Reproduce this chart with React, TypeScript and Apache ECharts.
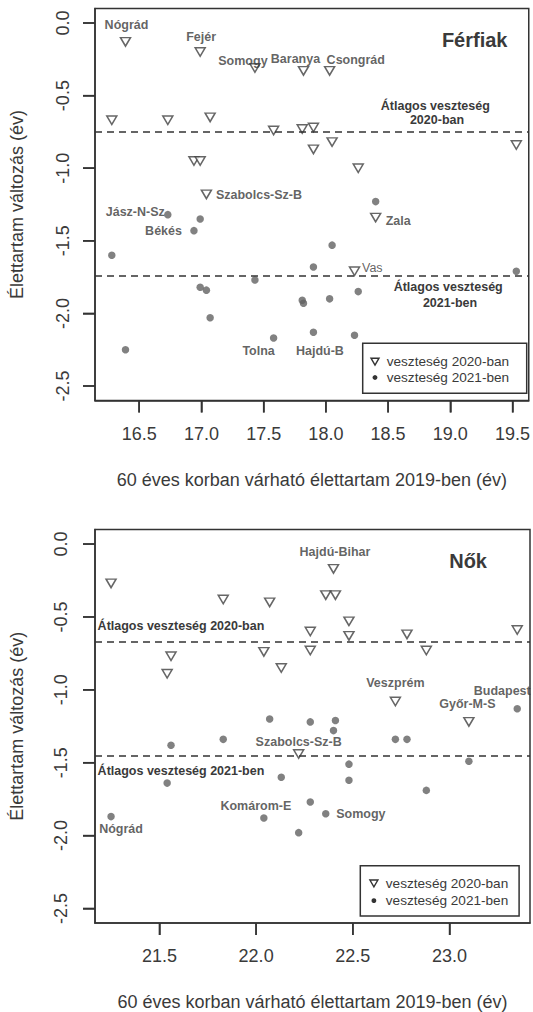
import React, { useEffect, useRef } from "react";
import * as echarts from "echarts";

const FONT = "'Liberation Sans', Arial, Helvetica, sans-serif";
const INK = "#3a3a3a";
const BOX = "#333333";

// Férfiak: 60 éves korban várható élettartam 2019-ben, és a veszteség 2020-ban / 2021-ben
const menLife2019 = [16.39, 16.99, 17.43, 17.82, 18.03, 16.28, 16.73, 17.07, 17.58, 17.81, 17.9, 17.9, 18.05, 19.53, 16.94, 16.99, 18.26, 17.04, 18.4, 18.23];
const menLoss2020 = [-0.13, -0.2, -0.31, -0.33, -0.33, -0.67, -0.67, -0.65, -0.74, -0.73, -0.72, -0.87, -0.82, -0.84, -0.95, -0.95, -1.0, -1.18, -1.34, -1.71];
const menLoss2021 = [-2.25, -1.82, -1.77, -1.93, -1.9, -1.6, -1.32, -2.03, -2.17, -1.91, -1.68, -2.13, -1.53, -1.71, -1.43, -1.35, -1.85, -1.84, -1.23, -2.15];
const menCounties = ["Nógrád", "Fejér", "Somogy", "Baranya", "Csongrád", "", "Jász-N-Sz", "", "Tolna", "", "", "Hajdú-B", "", "", "Békés", "", "", "Szabolcs-Sz-B", "Zala", "Vas"];
const menMean2020 = -0.75;
const menMean2021 = -1.74;

// Nők
const womenLife2019 = [21.25, 21.83, 22.07, 22.4, 22.36, 22.41, 22.48, 22.48, 22.28, 22.28, 22.04, 22.13, 21.56, 21.54, 22.78, 22.88, 23.35, 22.72, 23.1, 22.22];
const womenLoss2020 = [-0.27, -0.38, -0.4, -0.17, -0.35, -0.35, -0.53, -0.63, -0.6, -0.73, -0.74, -0.85, -0.77, -0.89, -0.62, -0.73, -0.59, -1.08, -1.22, -1.44];
const womenLoss2021 = [-1.87, -1.34, -1.2, -1.28, -1.85, -1.21, -1.51, -1.62, -1.22, -1.77, -1.88, -1.6, -1.38, -1.64, -1.34, -1.69, -1.13, -1.34, -1.49, -1.98];
const womenCounties = ["Nógrád", "", "", "Hajdú-Bihar", "Somogy", "", "", "", "", "", "Komárom-E", "", "", "", "", "", "Budapest", "Veszprém", "Győr-M-S", "Szabolcs-Sz-B"];
const womenMean2020 = -0.67;
const womenMean2021 = -1.45;

const menTicks = [16.5, 17.0, 17.5, 18.0, 18.5, 19.0, 19.5];
const womenTicks = [21.5, 22.0, 22.5, 23.0];
const lossTicks = [0, -0.5, -1.0, -1.5, -2.0, -2.5];

const MEN_X_RANGE = [16.145, 19.63];
const WOMEN_X_RANGE = [21.167, 23.416];
const LOSS_RANGE = [-2.6, 0.1];

const SERIES_2020 = "veszteség 2020-ban";
const SERIES_2021 = "veszteség 2021-ben";

type Placement = { year: 2020 | 2021; dx: number; dy: number; align: "left" | "center" | "right"; weight?: string };

// where each county name sits relative to its marker
const menLabelPlacement: Record<string, Placement> = {
  "Nógrád": { year: 2020, dx: 1, dy: -17, align: "center" },
  "Fejér": { year: 2020, dx: 1, dy: -15, align: "center" },
  "Somogy": { year: 2020, dx: -12, dy: -7, align: "center" },
  "Baranya": { year: 2020, dx: -8, dy: -12, align: "center" },
  "Csongrád": { year: 2020, dx: -3, dy: -11, align: "left" },
  "Szabolcs-Sz-B": { year: 2020, dx: 9.5, dy: 1, align: "left" },
  "Zala": { year: 2020, dx: 10, dy: 3, align: "left" },
  "Vas": { year: 2020, dx: 7.5, dy: -3.5, align: "left", weight: "normal" },
  "Jász-N-Sz": { year: 2021, dx: -3, dy: -3, align: "right" },
  "Békés": { year: 2021, dx: -12, dy: 0, align: "right" },
  "Tolna": { year: 2021, dx: -15, dy: 13, align: "center" },
  "Hajdú-B": { year: 2021, dx: 6.5, dy: 18.5, align: "center" },
};

const womenLabelPlacement: Record<string, Placement> = {
  "Hajdú-Bihar": { year: 2020, dx: 1.5, dy: -17, align: "center" },
  "Veszprém": { year: 2020, dx: 0, dy: -18, align: "center" },
  "Győr-M-S": { year: 2020, dx: -1.5, dy: -17.5, align: "center" },
  "Szabolcs-Sz-B": { year: 2020, dx: 0, dy: -11.5, align: "center" },
  "Budapest": { year: 2021, dx: -15, dy: -18, align: "center" },
  "Komárom-E": { year: 2021, dx: -8, dy: -12.5, align: "center" },
  "Somogy": { year: 2021, dx: 10.5, dy: 0, align: "left" },
  "Nógrád": { year: 2021, dx: 10, dy: 12.5, align: "center" },
};

const GRID_MEN = { left: 92.5, top: 8.5, width: 437, height: 392 };
const GRID_WOMEN = { left: 90, top: 529.5, width: 440, height: 394 };
const TICK_LEN = 12;

function buildPoints(xs: number[], ys: number[], names: string[], placement: Record<string, Placement>, year: 2020 | 2021) {
  return xs.map((x, i) => {
    const item: any = { value: [x, ys[i]], name: names[i] };
    const p = placement[names[i]];
    if (names[i] && p && p.year === year) {
      item.label = {
        show: true,
        position: "inside",
        offset: [p.dx, p.dy],
        align: p.align,
        verticalAlign: "middle",
        formatter: names[i],
        color: INK,
        fontFamily: FONT,
        fontSize: 12.5,
        fontWeight: p.weight || "bold",
      };
    }
    return item;
  });
}

function meanLine(value: number) {
  return {
    silent: true,
    symbol: "none",
    label: { show: false },
    lineStyle: { type: [7, 5], color: BOX, width: 1.5 },
    data: [{ yAxis: value }],
  };
}

function xAxisFor(gridIndex: number, range: number[], ticks: number[]) {
  return {
    type: "value",
    gridIndex,
    min: range[0],
    max: range[1],
    position: "bottom",
    name: "60 éves korban várható élettartam 2019-ben (év)",
    nameLocation: "middle",
    nameGap: 70,
    nameTextStyle: { fontFamily: FONT, fontSize: 18, color: INK },
    axisLine: { show: true, onZero: false, lineStyle: { color: BOX, width: 1.5 } },
    splitLine: { show: false },
    axisTick: { show: true, inside: false, length: TICK_LEN, customValues: ticks, lineStyle: { color: BOX, width: 1.5 } },
    axisLabel: {
      customValues: ticks,
      margin: 24,
      fontFamily: FONT,
      fontSize: 18,
      color: INK,
      formatter: (v: number) => v.toFixed(1),
    },
  };
}

function yAxisFor(gridIndex: number) {
  return {
    type: "value",
    gridIndex,
    min: LOSS_RANGE[0],
    max: LOSS_RANGE[1],
    position: "left",
    name: "Élettartam változás (év)",
    nameLocation: "middle",
    nameRotate: 90,
    nameGap: 69,
    nameTextStyle: { fontFamily: FONT, fontSize: 18, color: INK },
    axisLine: { show: true, onZero: false, lineStyle: { color: BOX, width: 1.5 } },
    splitLine: { show: false },
    axisTick: { show: true, inside: false, length: TICK_LEN, customValues: lossTicks, lineStyle: { color: BOX, width: 1.5 } },
    // tick labels are drawn rotated, reading upwards, alongside the axis (see below)
    axisLabel: { show: false },
  };
}

function text(x: number, y: number, str: string, size: number, align: string, weight = "bold", rotation = 0) {
  return {
    type: "text",
    x,
    y,
    rotation,
    silent: true,
    style: { text: str, align, verticalAlign: "middle", fontFamily: FONT, fontSize: size, fontWeight: weight, fill: INK },
  };
}

function legendBox(left: number, top: number, w: number, h: number, iconX: number, row1: number, row2: number, textX: number) {
  return {
    type: "group",
    silent: true,
    children: [
      { type: "rect", shape: { x: left, y: top, width: w, height: h }, style: { fill: "#ffffff", stroke: BOX, lineWidth: 1.5 } },
      {
        type: "polygon",
        shape: { points: [[iconX - 4, row1 - 3.3], [iconX + 4, row1 - 3.3], [iconX, row1 + 3.6]] },
        style: { fill: "#ffffff", stroke: BOX, lineWidth: 1.4 },
      },
      { type: "circle", shape: { cx: iconX, cy: row2, r: 2.4 }, style: { fill: BOX } },
      text(textX, row1, SERIES_2020, 13.6, "left", "normal"),
      text(textX, row2, SERIES_2021, 13.6, "left", "normal"),
    ],
  };
}

// outward tick marks drawn through the grid's own scales
function tickSeries(gridIndex: number, values: number[], dir: "x" | "y", anchor: number) {
  return {
    type: "custom",
    xAxisIndex: gridIndex,
    yAxisIndex: gridIndex,
    silent: true,
    clip: false,
    z: 20,
    data: values.map((v) => [v]),
    renderItem: (_params: any, api: any) => {
      const v = api.value(0);
      const p = dir === "x" ? api.coord([v, anchor]) : api.coord([anchor, v]);
      const shape =
        dir === "x"
          ? { x1: p[0], y1: p[1], x2: p[0], y2: p[1] + TICK_LEN }
          : { x1: p[0] - TICK_LEN, y1: p[1], x2: p[0], y2: p[1] };
      return { type: "line", shape, style: { stroke: BOX, lineWidth: 1.5 } };
    },
  };
}

const triangleStyle = { color: "#ffffff", borderColor: "#404040", borderWidth: 1.5 };
const dotStyle = { color: "#616161" };

export default function App() {
  const ref = useRef<HTMLDivElement>(null);

  useEffect(() => {
    if (!ref.current) return;
    const chart = echarts.init(ref.current, null, { renderer: "svg" });

    chart.setOption({
      animation: false,
      backgroundColor: "#ffffff",
      textStyle: { fontFamily: FONT },
      grid: [
        { ...GRID_MEN, show: true, borderColor: BOX, borderWidth: 1.5, backgroundColor: "transparent" },
        { ...GRID_WOMEN, show: true, borderColor: BOX, borderWidth: 1.5, backgroundColor: "transparent" },
      ],
      xAxis: [xAxisFor(0, MEN_X_RANGE, menTicks), xAxisFor(1, WOMEN_X_RANGE, womenTicks)],
      yAxis: [yAxisFor(0), yAxisFor(1)],
      series: [
        {
          name: SERIES_2021,
          type: "scatter",
          xAxisIndex: 0,
          yAxisIndex: 0,
          symbol: "circle",
          symbolSize: 7.5,
          itemStyle: dotStyle,
          data: buildPoints(menLife2019, menLoss2021, menCounties, menLabelPlacement, 2021),
          markLine: meanLine(menMean2021),
        },
        {
          name: SERIES_2020,
          type: "scatter",
          xAxisIndex: 0,
          yAxisIndex: 0,
          symbol: "triangle",
          symbolRotate: 180,
          symbolSize: [10, 8.5],
          itemStyle: triangleStyle,
          data: buildPoints(menLife2019, menLoss2020, menCounties, menLabelPlacement, 2020),
          markLine: meanLine(menMean2020),
        },
        {
          name: SERIES_2021,
          type: "scatter",
          xAxisIndex: 1,
          yAxisIndex: 1,
          symbol: "circle",
          symbolSize: 7.5,
          itemStyle: dotStyle,
          data: buildPoints(womenLife2019, womenLoss2021, womenCounties, womenLabelPlacement, 2021),
          markLine: meanLine(womenMean2021),
        },
        {
          name: SERIES_2020,
          type: "scatter",
          xAxisIndex: 1,
          yAxisIndex: 1,
          symbol: "triangle",
          symbolRotate: 180,
          symbolSize: [10, 8.5],
          itemStyle: triangleStyle,
          data: buildPoints(womenLife2019, womenLoss2020, womenCounties, womenLabelPlacement, 2020),
          markLine: meanLine(womenMean2020),
        },
        tickSeries(0, menTicks, "x", LOSS_RANGE[0]),
        tickSeries(0, lossTicks, "y", MEN_X_RANGE[0]),
        tickSeries(1, womenTicks, "x", LOSS_RANGE[0]),
        tickSeries(1, lossTicks, "y", WOMEN_X_RANGE[0]),
      ],
    });

    // rotated y tick labels, placed through each grid's own scales
    const yLabels: any[] = [];
    [
      { grid: 0, xRange: MEN_X_RANGE, labelGap: 32.5 },
      { grid: 1, xRange: WOMEN_X_RANGE, labelGap: 34.5 },
    ].forEach(({ grid, xRange, labelGap }) => {
      lossTicks.forEach((v) => {
        const p = chart.convertToPixel({ gridIndex: grid } as any, [xRange[0], v]) as any;
        if (Array.isArray(p)) yLabels.push(text(p[0] - labelGap, p[1], v.toFixed(1), 18, "center", "normal", Math.PI / 2));
      });
    });

    chart.setOption({
      graphic: [
        ...yLabels,
        text(474.7, 40, "Férfiak", 20, "center"),
        text(435.3, 106, "Átlagos veszteség", 12.5, "center"),
        text(437, 120, "2020-ban", 12.5, "center"),
        text(448.2, 286.7, "Átlagos veszteség", 12.5, "center"),
        text(450, 302.7, "2021-ben", 12.5, "center"),
        legendBox(362.7, 343.3, 164, 50, 375, 361.5, 377.5, 386.7),

        text(468.1, 561, "Nők", 20, "center"),
        text(97.6, 625.7, "Átlagos veszteség 2020-ban", 12.5, "left"),
        text(97.6, 771, "Átlagos veszteség 2021-ben", 12.5, "left"),
        legendBox(360.3, 865.7, 158.8, 50.3, 373.9, 883.3, 900.7, 385.8),
      ],
    });

    return () => chart.dispose();
  }, []);

  return <div ref={ref} style={{ position: "absolute", left: 0, top: 0, width: 533, height: 1012 }} />;
}
